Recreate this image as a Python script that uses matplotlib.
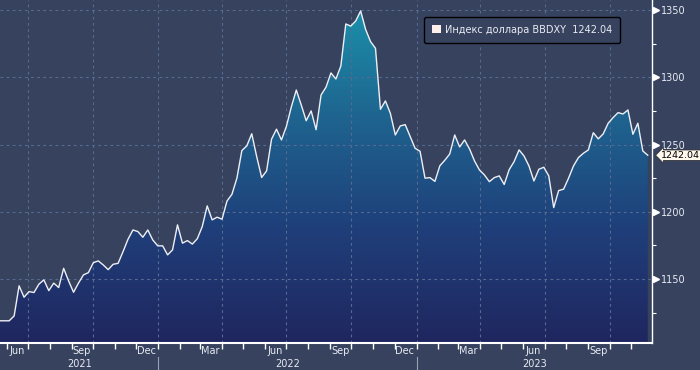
import matplotlib
matplotlib.use("Agg")
import matplotlib.pyplot as plt
import matplotlib.dates as mdates
import matplotlib.transforms as mtransforms
from matplotlib.colors import LinearSegmentedColormap
from matplotlib.patches import Patch
import numpy as np
import pandas as pd

# Weekly BBDXY closes (last point = Nov 24, 2023)
bbdxy = [
    1119, 1119, 1119, 1119,
    1122.6, 1145, 1136.5, 1140.7, 1140, 1146.2, 1149.4, 1141.4, 1147, 1143.7,
    1158, 1148.6, 1140.2, 1147, 1153.1, 1154.8, 1162.2, 1163.5, 1160.5, 1157,
    1161, 1161.7, 1170.4, 1179.6, 1186.5, 1185.3, 1181.1, 1186.5, 1179.1, 1174.7,
    1174.7, 1168, 1171.7, 1190.3, 1176.7, 1178.6, 1176, 1180, 1189, 1204.4,
    1194, 1196, 1194.5, 1208, 1213, 1225, 1245.5, 1249, 1258, 1241,
    1225.5, 1230.4, 1254, 1261.4, 1253.4, 1263.5, 1278, 1290.5, 1279.4, 1267.7,
    1275, 1261, 1286.8, 1292.6, 1303.2, 1298.7, 1308.4, 1339.6, 1338, 1341.8,
    1349.3, 1335.6, 1326.5, 1321.5, 1276.2, 1282.4, 1273.2, 1257.1, 1263.8, 1264.8,
    1255.9, 1247.2, 1245, 1225, 1225.4, 1222.6, 1234.2, 1238.3, 1243, 1257.1,
    1248.2, 1253.4, 1246.7, 1237.8, 1231.1, 1227.4, 1222.4, 1225.4, 1226.7, 1220.3,
    1231.3, 1237.3, 1246, 1241.5, 1234.1, 1222.9, 1231.6, 1233.1, 1226.7, 1203.1,
    1215.8, 1216.8, 1225, 1234.1, 1240.3, 1243.5, 1246, 1258.8, 1254.2, 1257.9,
    1265.8, 1270, 1273.7, 1272.7, 1275.7, 1257.6, 1265.8, 1245.2, 1242.04,
]
last_date = "2023-11-24"
legend_label = "Индекс доллара BBDXY  1242.04"
last_value = "1242.04"
y_major = [1150, 1200, 1250, 1300, 1350]
y_minor = [1125, 1175, 1225, 1275, 1325]
years = [2021, 2022, 2023]

dates = pd.date_range(end=last_date, periods=len(bbdxy), freq="W-FRI")

bg = "#36425e"
grid_c = "#566a92"
txt_c = "#e8ebf2"

fig = plt.figure(figsize=(7, 3.7), dpi=100)
fig.patch.set_facecolor(bg)
ax = fig.add_axes([0, 27 / 370, 652 / 700, 343 / 370])
ax.set_facecolor(bg)

xmin, xmax = pd.Timestamp("2021-05-22"), pd.Timestamp("2023-11-30")
ylo, yhi = 1102.5, 1357.4
ax.set_xlim(xmin, xmax)
ax.set_ylim(ylo, yhi)

# gradient fill under the line
poly = ax.fill_between(dates, bbdxy, ylo, facecolor="none", edgecolor="none")
cmap = LinearSegmentedColormap.from_list("bb", ["#20265f", "#1f3f7a", "#1e6590", "#1b93ad"])
grad = np.linspace(1, 0, 256).reshape(-1, 1)
im = ax.imshow(grad, cmap=cmap, aspect="auto", zorder=1,
               extent=[mdates.date2num(xmin), mdates.date2num(xmax), ylo, yhi])
im.set_clip_path(poly.get_paths()[0], poly.get_transform())
ax.plot(dates, bbdxy, color="#eef0f5", lw=1.0, zorder=3)

# grid
ax.xaxis.set_major_locator(mdates.MonthLocator())
ax.xaxis.set_major_formatter(plt.NullFormatter())
ax.xaxis.set_minor_locator(mdates.MonthLocator(bymonth=[3, 6, 9, 12], bymonthday=15))
ax.xaxis.set_minor_formatter(mdates.DateFormatter("%b"))
for d in pd.date_range("2021-07-01", "2023-10-01", freq="QS"):
    ax.axvline(d, color=grid_c, lw=0.8, ls=(0, (2.5, 3)), zorder=2)
for v in y_major:
    ax.axhline(v, color=grid_c, lw=0.8, ls=(0, (2.5, 3)), zorder=2)

ax.tick_params(axis="x", which="major", length=4, width=1, color="white", direction="out")
ax.tick_params(axis="x", which="minor", length=0, pad=2.5, labelsize=7, labelcolor=txt_c)

# right y axis
ax.yaxis.tick_right()
ax.set_yticks(y_major)
ax.set_yticks(y_minor, minor=True)
ax.tick_params(axis="y", which="major", length=0, pad=6.5, labelsize=7, labelcolor=txt_c)
ax.tick_params(axis="y", which="minor", length=3, width=0.8, color="white", direction="out")
tr = mtransforms.blended_transform_factory(ax.transAxes, ax.transData)
ax.plot([1 + 4.5 / 652] * len(y_major), y_major, ls="none", marker=">", ms=5,
        color="white", transform=tr, clip_on=False)

for side in ["left", "top"]:
    ax.spines[side].set_visible(False)
ax.spines["bottom"].set_color("white")
ax.spines["bottom"].set_linewidth(1.5)
ax.spines["right"].set_color("white")
ax.spines["right"].set_linewidth(1)
for s in ax.spines.values():
    s.set_zorder(4)

# year labels and separators
trx = mtransforms.blended_transform_factory(ax.transData, ax.transAxes)
for yr in years:
    a = max(xmin, pd.Timestamp(f"{yr}-01-01"))
    b = min(xmax, pd.Timestamp(f"{yr + 1}-01-01"))
    ax.text(a + (b - a) / 2, -21 / 343, str(yr), transform=trx, ha="center",
            va="center", fontsize=7, color=txt_c)
    if pd.Timestamp(f"{yr}-01-01") > xmin:
        ax.plot([pd.Timestamp(f"{yr}-01-01")] * 2, [-14 / 343, -27 / 343], color="#9aa3b5",
                lw=0.8, transform=trx, clip_on=False)

# last value tag
ax.text(1 + 9 / 652, float(bbdxy[-1]), last_value, transform=tr, ha="left", va="center",
        fontsize=6.8, color="black",
        bbox=dict(boxstyle="larrow,pad=0.08", fc="#fff8ec", ec="#333333", lw=0.6))

leg = ax.legend(handles=[Patch(facecolor="#fdf0ea", edgecolor="none", label=legend_label)],
                loc="upper left", bbox_to_anchor=(424 / 652, 1 - 17 / 343), borderaxespad=0,
                fontsize=7, frameon=True, fancybox=True, handlelength=0.9, handleheight=0.9,
                handletextpad=0.5, borderpad=0.8)
leg.get_frame().set_facecolor(bg)
leg.get_frame().set_edgecolor("black")
leg.get_frame().set_alpha(1)
for t in leg.get_texts():
    t.set_color(txt_c)
leg.set_zorder(5)

fig.savefig("out.png", dpi=100, facecolor=bg)
